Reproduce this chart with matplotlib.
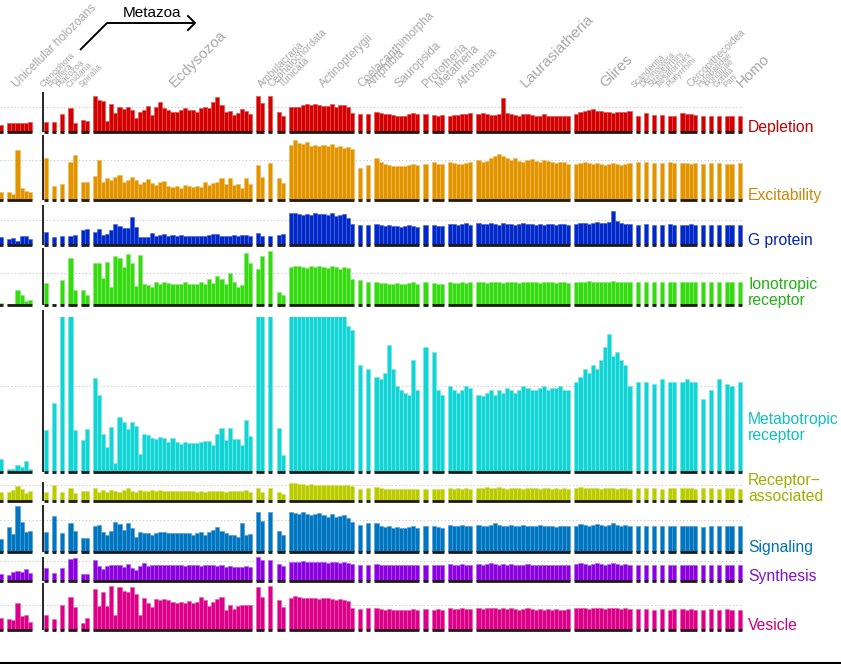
import matplotlib
matplotlib.use("Agg")
import matplotlib.pyplot as plt

plt.rcParams['font.family'] = ['Liberation Sans', 'DejaVu Sans']

# ---------------- data ----------------
taxa = ["Unicellular holozoans", "Ctenophora", "Porifera", "Placozoa", "Cnidaria", "Spiralia",
        "Ecdysozoa", "Ambulacraria", "Cephalochordata", "Tunicata", "Actinopterygii",
        "Coelacanthimorpha", "Amphibia", "Sauropsida", "Prototheria", "Metatheria", "Afrotheria",
        "Laurasiatheria", "Glires", "Scandentia", "Dermoptera", "Strepsirrhini", "Tarsiiformes",
        "Platyrrhini", "Cercopithecoidea", "Hylobatidae", "Ponginae", "Gorilla", "Pan", "Homo"]
taxon_sizes = [7, 1, 1, 1, 2, 2, 39, 2, 1, 2, 16, 1, 1, 11, 1, 3, 6, 23, 14,
               1, 1, 1, 1, 2, 4, 1, 1, 1, 2, 1]

depletion = [
    0.28, 0.35, 0.36, 0.38, 0.38, 0.35, 0.42,
    0.41, 0.41, 0.71, 0.97, 0.37, 0.48, 0.45,
    1.45, 1.28, 1.25, 0.45, 1.12, 0.76, 1.00, 0.92, 1.01, 0.88, 0.56, 0.81, 0.88, 1.04, 0.68, 0.99,
    1.19, 0.95, 0.88, 0.81, 0.81, 0.88, 0.95, 0.88, 0.88, 0.81, 0.95, 1.01, 0.95, 1.19, 1.41, 1.08,
    0.81, 0.85, 0.68, 0.77, 0.91, 0.85, 0.73,
    1.45, 1.17, 1.45, 0.81, 0.65,
    1.01, 0.99, 1.00, 1.08, 1.11, 1.08, 1.11, 1.08, 1.05, 1.04, 1.11, 1.01, 1.08, 1.08, 1.00, 0.77,
    0.72, 0.72,
    0.81, 0.75, 0.72, 0.72, 0.68, 0.65, 0.65, 0.65, 0.72, 0.77, 0.72,
    0.72, 0.68, 0.65, 0.68, 0.65, 0.68, 0.68, 0.72, 0.72, 0.75,
    0.72, 0.75, 0.72, 0.68, 0.68, 0.72, 1.38, 0.75, 0.72, 0.68, 0.65, 0.72, 0.72, 0.68, 0.65, 0.64,
    0.72, 0.65, 0.65, 0.65, 0.65, 0.64, 0.64,
    0.72, 0.82, 0.85, 0.90, 0.93, 0.85, 0.85, 0.82, 0.80, 0.78, 0.80, 0.82, 0.82, 0.85,
    0.65, 0.77, 0.68, 0.68, 0.65, 0.65, 0.75, 0.72, 0.72, 0.70, 0.63, 0.63, 0.65, 0.65, 0.65, 0.63]

excitability = [
    0.21, 0.21, 0.15, 1.25, 0.30, 0.22, 0.20,
    1.04, 0.35, 0.40, 0.94, 1.13, 0.46, 0.46,
    0.60, 1.00, 0.46, 0.56, 0.50, 0.58, 0.63, 0.46, 0.50, 0.57, 0.50, 0.40, 0.46, 0.52, 0.42, 0.38,
    0.46, 0.48, 0.35, 0.33, 0.35, 0.31, 0.38, 0.35, 0.33, 0.35, 0.33, 0.46, 0.38, 0.42, 0.46, 0.56,
    0.40, 0.54, 0.38, 0.40, 0.29, 0.56, 0.40,
    0.88, 0.58, 0.92, 0.56, 0.42,
    1.37, 1.50, 1.43, 1.40, 1.45, 1.35, 1.38, 1.35, 1.38, 1.35, 1.40, 1.32, 1.35, 1.30, 1.32, 1.28,
    0.80, 0.88,
    1.05, 0.95, 0.90, 0.88, 0.85, 0.85, 0.85, 0.85, 0.88, 0.90, 0.88,
    0.90, 0.95, 0.90, 0.90, 0.95, 0.92, 0.90, 0.90, 0.92, 0.95,
    1.00, 0.95, 0.98, 1.05, 1.10, 1.15, 1.10, 1.05, 1.00, 1.05, 0.98, 0.95, 1.00, 1.02, 0.98, 0.95,
    1.00, 0.98, 0.95, 0.92, 0.95, 0.95, 0.90,
    0.90, 0.92, 0.95, 0.92, 0.90, 0.92, 0.90, 0.88, 0.90, 0.92, 0.90, 0.88, 0.90, 0.92,
    0.95, 0.95, 0.92, 0.92, 0.95, 0.92, 0.92, 0.92, 0.90, 0.92, 0.90, 0.92, 0.92, 0.90, 0.90, 0.92]

g_protein = [
    0.33, 0.25, 0.27, 0.15, 0.37, 0.37, 0.25,
    0.53, 0.33, 0.36, 0.36, 0.40, 0.60, 0.63,
    0.53, 0.63, 0.40, 0.44, 0.60, 0.83, 0.76, 0.67, 0.67, 1.11, 0.73, 0.33, 0.31, 0.33, 0.47, 0.36,
    0.40, 0.44, 0.36, 0.40, 0.36, 0.40, 0.36, 0.36, 0.36, 0.36, 0.36, 0.36, 0.40, 0.44, 0.44, 0.36,
    0.36, 0.36, 0.40, 0.36, 0.40, 0.40, 0.36,
    0.47, 0.36, 0.36, 0.40, 0.44,
    1.27, 1.28, 1.24, 1.20, 1.24, 1.20, 1.28, 1.24, 1.24, 1.20, 1.28, 1.16, 1.20, 1.24, 1.08, 0.84,
    0.80, 0.80,
    0.84, 0.80, 0.76, 0.80, 0.76, 0.76, 0.72, 0.76, 0.80, 0.76, 0.72,
    0.80, 0.80, 0.76, 0.76, 0.84, 0.84, 0.80, 0.84, 0.88, 0.80,
    0.88, 0.84, 0.84, 0.88, 0.84, 0.80, 0.88, 0.84, 0.84, 0.80, 0.84, 0.88, 0.84, 0.84, 0.80, 0.84,
    0.80, 0.84, 0.84, 0.80, 0.84, 0.84, 0.80,
    0.84, 0.88, 0.88, 0.84, 0.88, 0.92, 0.88, 0.88, 0.92, 1.36, 0.96, 0.88, 0.84, 0.84,
    0.80, 0.84, 0.80, 0.80, 0.84, 0.80, 0.80, 0.80, 0.84, 0.80, 0.80, 0.80, 0.80, 0.80, 0.80, 0.80]

ionotropic = [
    0.05, 0.03, 0.03, 0.46, 0.31, 0.12, 0.15,
    0.69, 0.04, 0.77, 1.46, 0.46, 0.46, 0.31,
    1.31, 1.29, 0.85, 1.34, 0.56, 1.52, 1.46, 1.19, 1.58, 1.31, 0.58, 1.55, 0.66, 0.63, 0.56, 0.72,
    0.66, 0.71, 0.69, 0.64, 0.64, 0.64, 0.72, 0.64, 0.64, 0.66, 0.72, 0.64, 0.79, 0.69, 0.90, 0.82,
    0.66, 1.00, 0.72, 0.56, 0.61, 1.60, 1.31,
    1.13, 1.52, 1.68, 0.39, 0.30,
    1.19, 1.22, 1.20, 1.18, 1.15, 1.20, 1.18, 1.20, 1.18, 1.15, 1.20, 1.18, 1.12, 1.18, 1.15, 0.80,
    0.78, 0.72,
    0.70, 0.68, 0.68, 0.66, 0.66, 0.68, 0.66, 0.66, 0.68, 0.70, 0.66,
    0.72, 0.68, 0.66, 0.66, 0.70, 0.68, 0.68, 0.70, 0.68, 0.70,
    0.72, 0.70, 0.68, 0.70, 0.72, 0.70, 0.68, 0.70, 0.72, 0.70, 0.68, 0.70, 0.72, 0.70, 0.70, 0.68,
    0.70, 0.72, 0.70, 0.68, 0.70, 0.70, 0.68,
    0.72, 0.70, 0.72, 0.74, 0.72, 0.70, 0.72, 0.70, 0.72, 0.74, 0.72, 0.70, 0.70, 0.72,
    0.72, 0.70, 0.70, 0.72, 0.70, 0.70, 0.70, 0.72, 0.70, 0.70, 0.70, 0.70, 0.72, 0.70, 0.70, 0.70]

metabotropic = [
    0.15, 0.04, 0.04, 0.08, 0.06, 0.13, 0.04,
    0.49, 0.80, 2.00, 2.00, 0.49, 0.37, 0.50,
    1.09, 0.90, 0.44, 0.29, 0.52, 0.10, 0.64, 0.58, 0.50, 0.58, 0.54, 0.21, 0.44, 0.43, 0.40, 0.38,
    0.41, 0.40, 0.35, 0.40, 0.35, 0.33, 0.35, 0.34, 0.34, 0.34, 0.35, 0.36, 0.36, 0.31, 0.44, 0.51,
    0.37, 0.51, 0.38, 0.38, 0.31, 0.61, 0.42,
    2.00, 2.00, 2.00, 0.51, 0.20,
    2.00, 2.00, 2.00, 2.00, 2.00, 2.00, 2.00, 2.00, 2.00, 2.00, 2.00, 2.00, 2.00, 2.00, 1.70, 1.65,
    1.25, 1.20,
    1.10, 1.08, 1.15, 1.48, 1.20, 1.00, 0.95, 0.92, 0.90, 1.30, 0.95,
    1.45, 1.40, 0.95, 0.90, 1.00, 0.95, 0.92, 0.95, 1.00, 0.98,
    0.90, 0.88, 0.92, 0.95, 0.90, 0.95, 0.92, 0.98, 0.95, 0.92, 0.95, 1.00, 0.98, 0.95, 0.95, 0.98,
    1.00, 0.95, 0.98, 0.98, 1.00, 0.95, 0.95,
    1.05, 1.10, 1.20, 1.15, 1.25, 1.20, 1.30, 1.45, 1.60, 1.35, 1.40, 1.30, 1.25, 1.00,
    1.05, 1.05, 1.02, 1.08, 1.05, 1.05, 1.05, 1.08, 1.05, 1.05, 0.85, 0.95, 1.08, 1.02, 1.00, 1.05]

receptor_assoc = [
    0.58, 0.58, 0.70, 0.94, 0.75, 0.50, 0.60,
    0.54, 1.00, 0.58, 0.79, 0.52, 0.62, 0.62,
    0.79, 0.58, 0.69, 0.58, 0.69, 0.65, 0.58, 0.69, 0.79, 0.65, 0.58, 0.69, 0.65, 0.65, 0.69, 0.65,
    0.69, 0.65, 0.62, 0.65, 0.62, 0.62, 0.65, 0.62, 0.62, 0.58, 0.62, 0.58, 0.62, 0.65, 0.62, 0.60,
    0.58, 0.65, 0.62, 0.60, 0.65, 0.69, 0.55,
    0.79, 0.58, 0.83, 0.58, 0.42,
    1.10, 1.10, 1.05, 1.05, 1.02, 1.05, 1.00, 1.02, 1.00, 1.00, 1.02, 1.00, 0.98, 1.00, 0.98, 0.95,
    0.75, 0.80,
    0.85, 0.80, 0.78, 0.75, 0.75, 0.78, 0.75, 0.72, 0.75, 0.78, 0.75,
    0.75, 0.78, 0.75, 0.75, 0.80, 0.78, 0.80, 0.78, 0.80, 0.78,
    0.80, 0.82, 0.85, 0.80, 0.82, 0.85, 0.80, 0.78, 0.80, 0.82, 0.80, 0.78, 0.80, 0.82, 0.80, 0.78,
    0.80, 0.80, 0.78, 0.80, 0.78, 0.80, 0.78,
    0.80, 0.85, 0.82, 0.80, 0.82, 0.80, 0.78, 0.80, 0.82, 0.80, 0.78, 0.80, 0.80, 0.78,
    0.80, 0.82, 0.80, 0.78, 0.80, 0.80, 0.82, 0.80, 0.80, 0.78, 0.80, 0.80, 0.78, 0.80, 0.80, 0.78]

signaling = [
    0.40, 0.79, 0.55, 1.44, 0.95, 0.62, 0.65,
    0.64, 1.13, 0.60, 0.90, 0.67, 0.45, 0.45,
    0.81, 0.84, 0.64, 0.52, 0.67, 0.95, 0.88, 0.69, 0.92, 0.74, 0.48, 0.64, 0.58, 0.60, 0.53, 0.60,
    0.64, 0.64, 0.60, 0.58, 0.60, 0.58, 0.58, 0.58, 0.53, 0.58, 0.64, 0.53, 0.64, 0.69, 0.79, 0.67,
    0.58, 0.53, 0.53, 0.48, 0.90, 0.53, 0.55,
    1.26, 0.97, 1.24, 0.67, 0.53,
    1.26, 1.22, 1.20, 1.25, 1.20, 1.15, 1.18, 1.22, 1.15, 1.10, 1.18, 1.10, 1.12, 1.15, 1.05, 0.95,
    0.85, 0.90,
    0.90, 0.80, 0.78, 0.80, 0.75, 0.78, 0.75, 0.75, 0.78, 0.80, 0.75,
    0.80, 0.80, 0.78, 0.75, 0.85, 0.80, 0.82, 0.85, 0.80, 0.82,
    0.85, 0.82, 0.80, 0.85, 0.90, 0.85, 0.82, 0.80, 0.85, 0.82, 0.80, 0.85, 0.82, 0.80, 0.82, 0.85,
    0.80, 0.82, 0.80, 0.78, 0.80, 0.82, 0.80,
    0.82, 0.88, 0.85, 0.82, 0.85, 0.88, 0.85, 0.82, 0.85, 0.90, 0.85, 0.82, 0.85, 0.82,
    0.82, 0.80, 0.80, 0.82, 0.80, 0.80, 0.82, 0.80, 0.80, 0.80, 0.78, 0.80, 0.80, 0.80, 0.80, 0.80]

synthesis = [
    0.35, 0.30, 0.47, 0.50, 0.47, 0.58, 0.38,
    0.63, 0.42, 0.67, 1.08, 1.13, 0.33, 0.33,
    1.03, 0.77, 0.60, 0.73, 0.82, 0.78, 0.82, 0.70, 0.87, 0.65, 0.55, 0.73, 0.90, 0.73, 0.82, 0.78,
    0.80, 0.82, 0.78, 0.80, 0.78, 0.78, 0.75, 0.78, 0.80, 0.78, 0.75, 0.78, 0.80, 0.78, 0.75, 0.78,
    0.72, 0.75, 0.72, 0.70, 0.72, 0.75, 0.72,
    1.18, 1.05, 1.05, 0.87, 0.77,
    0.97, 0.95, 0.97, 1.00, 0.95, 0.97, 0.95, 0.97, 0.95, 0.92, 0.95, 0.97, 0.92, 0.95, 0.90, 0.85,
    0.80, 0.82,
    0.85, 0.80, 0.78, 0.80, 0.78, 0.80, 0.78, 0.78, 0.80, 0.82, 0.78,
    0.80, 0.82, 0.80, 0.80, 0.85, 0.82, 0.82, 0.85, 0.82, 0.80,
    0.85, 0.82, 0.85, 0.88, 0.85, 0.82, 0.85, 0.82, 0.85, 0.82, 0.80, 0.82, 0.85, 0.82, 0.80, 0.82,
    0.80, 0.82, 0.80, 0.82, 0.80, 0.80, 0.82,
    0.85, 0.88, 0.85, 0.82, 0.85, 0.88, 0.85, 0.82, 0.85, 0.88, 0.85, 0.82, 0.85, 0.82,
    0.82, 0.82, 0.80, 0.82, 0.80, 0.82, 0.82, 0.80, 0.82, 0.80, 0.80, 0.82, 0.80, 0.82, 0.80, 0.80]

vesicle = [
    0.47, 0.43, 0.40, 1.07, 0.57, 0.60, 0.33,
    0.60, 0.43, 1.00, 1.31, 0.91, 0.29, 0.49,
    1.64, 0.95, 1.51, 0.95, 1.76, 0.60, 1.73, 1.57, 1.51, 1.73, 1.44, 0.60, 1.27, 1.07, 0.91, 1.23,
    1.20, 1.23, 1.20, 1.13, 1.09, 1.13, 1.09, 1.17, 1.07, 1.13, 1.33, 1.20, 0.95, 1.13, 1.23, 1.31,
    0.80, 1.00, 0.83, 0.95, 1.00, 1.00, 1.00,
    1.73, 1.31, 1.76, 1.20, 0.91,
    1.30, 1.35, 1.32, 1.28, 1.30, 1.28, 1.30, 1.25, 1.30, 1.28, 1.25, 1.20, 1.25, 1.22, 1.15, 0.90,
    0.85, 0.90,
    0.88, 0.85, 0.82, 0.85, 0.80, 0.82, 0.80, 0.80, 0.82, 0.85, 0.80,
    0.85, 0.82, 0.85, 0.82, 0.88, 0.85, 0.85, 0.88, 0.85, 0.85,
    0.88, 0.85, 0.88, 0.90, 0.88, 0.85, 0.88, 0.85, 0.88, 0.85, 0.82, 0.85, 0.88, 0.85, 0.82, 0.85,
    0.82, 0.85, 0.82, 0.85, 0.82, 0.82, 0.85,
    0.88, 0.90, 0.88, 0.85, 0.88, 0.90, 0.88, 0.85, 0.88, 0.90, 0.88, 0.85, 0.88, 0.85,
    0.85, 0.85, 0.82, 0.85, 0.82, 0.85, 0.85, 0.82, 0.85, 0.82, 0.82, 0.85, 0.82, 0.85, 0.82, 0.82]

panel_names = ["Depletion", "Excitability", "G protein", "Ionotropic\nreceptor",
               "Metabotropic\nreceptor", "Receptor\u2212\nassociated", "Signaling",
               "Synthesis", "Vesicle"]
panel_values = [depletion, excitability, g_protein, ionotropic, metabotropic,
                receptor_assoc, signaling, synthesis, vesicle]

# ---------------- styling / layout ----------------
bar_colors = ['#D20000', '#E19400', '#0028C8', '#36DA12', '#13D4D4', '#BACB00',
              '#0076C0', '#8A00E0', '#DC0088']
edge_colors = ['#E85050', '#F0BE5A', '#4A66DA', '#86EC6A', '#70E8E8', '#D6E25A',
               '#4A9ED6', '#B45AF0', '#EC5AB4']
label_colors = ['#C00000', '#C8880A', '#0020B8', '#22B012', '#10BFC0', '#A2AC00',
                '#0070B4', '#8010CC', '#CC0078']
# (baseline px, px per unit, clip top in units, line top in units, label lift px)
panel_geom = [(132, 25, 1.60, 1.60, 0), (200, 40, 1.625, 1.625, 0), (245, 25, 1.60, 1.60, 0),
              (305, 32.3, 1.76, 1.76, 0), (472, 86, 1.806, 1.88, 32), (501, 16, 1.19, 1.19, 0),
              (552, 32, 1.47, 1.47, 0), (581, 20, 1.20, 1.20, 0), (630, 25, 1.88, 1.88, 0)]

PX_W, PX_H = 841, 664
S0, SW = 44.0, 4.08          # pixel of slot 0 and pixels per slot
xlim = (-S0 / SW, (PX_W - S0) / SW)

big = 11.0; med = 8.5; mid = 7.4; sml = 6.2
label_sizes = [8.6, sml, sml, sml, sml, sml, big, mid, mid, mid, med, med, med, med, med,
               med, med, big, big, sml, sml, sml, sml, sml, 7.2, sml, sml, sml, sml, big]

# segments: unicellular group has an internal break after its first bar
seg_sizes = [1, 6] + taxon_sizes[1:]
seg_taxon = [0, 0] + list(range(1, len(taxa)))
gap_before = [0, 1, 3] + [1] * (len(seg_sizes) - 3)

xs = []
seg_ranges = []
pos = -11
for k, n in enumerate(seg_sizes):
    pos += gap_before[k]
    seg_ranges.append((pos, pos + n))
    xs.extend(range(pos, pos + n))
    pos += n
last_slot = pos

taxon_span = {}
for (a, b), t in zip(seg_ranges, seg_taxon):
    lo, hi = taxon_span.get(t, (a, b))
    taxon_span[t] = (min(lo, a), max(hi, b))

fig = plt.figure(figsize=(PX_W / 100, PX_H / 100), dpi=100)

for i, vals in enumerate(panel_values):
    base, unit, ytop, vtop, lift = panel_geom[i]
    h = ytop * unit
    ax = fig.add_axes([0, 1 - base / PX_H, 1, h / PX_H])
    ax.set_xlim(*xlim)
    ax.set_ylim(0, ytop)
    ax.axis('off')
    ax.hlines(1, xlim[0], last_slot, colors='#c4c4c4', linestyles=(0, (1, 2.2)),
              linewidth=0.8, zorder=0)
    ax.bar(xs, vals, width=1, align='edge', color=bar_colors[i],
           edgecolor=edge_colors[i], linewidth=0.45, zorder=2)
    for a, b in seg_ranges:
        ax.hlines(0, a, b, colors='#1e1a16', linewidth=2.0, zorder=3, clip_on=False)
    ax.vlines(-1.0 / SW, 0, vtop, colors='black', linewidth=1.2, zorder=4, clip_on=False)
    ax.text((748 - S0) / SW, lift / unit, panel_names[i], color=label_colors[i],
            fontsize=11.3, ha='left', va='baseline', linespacing=1.05)

# overlay for taxon labels and annotation (pixel coordinates)
ov = fig.add_axes([0, 0, 1, 1], zorder=10)
ov.set_xlim(0, PX_W)
ov.set_ylim(PX_H, 0)
ov.axis('off')
ov.patch.set_alpha(0)

for t, name in enumerate(taxa):
    a, b = taxon_span[t]
    cx = S0 + SW * (a + b) / 2.0
    shift = -3 if label_sizes[t] < 7 else 2
    ov.text(cx + shift, 88, name, rotation=45, rotation_mode='anchor', ha='left',
            va='baseline', color='#a8a8a8', fontsize=label_sizes[t])

ov.text(152, 13, "Metazoa", ha='center', va='center', fontsize=11, color='black')
ov.plot([80, 107, 194], [50, 23, 23], color='black', linewidth=1.4, solid_capstyle='butt')
ov.plot([188, 195, 188], [16, 23, 30], color='black', linewidth=1.4)
ov.plot([0, PX_W], [662.5, 662.5], color='black', linewidth=1.5)

fig.savefig("out.png", dpi=100)
